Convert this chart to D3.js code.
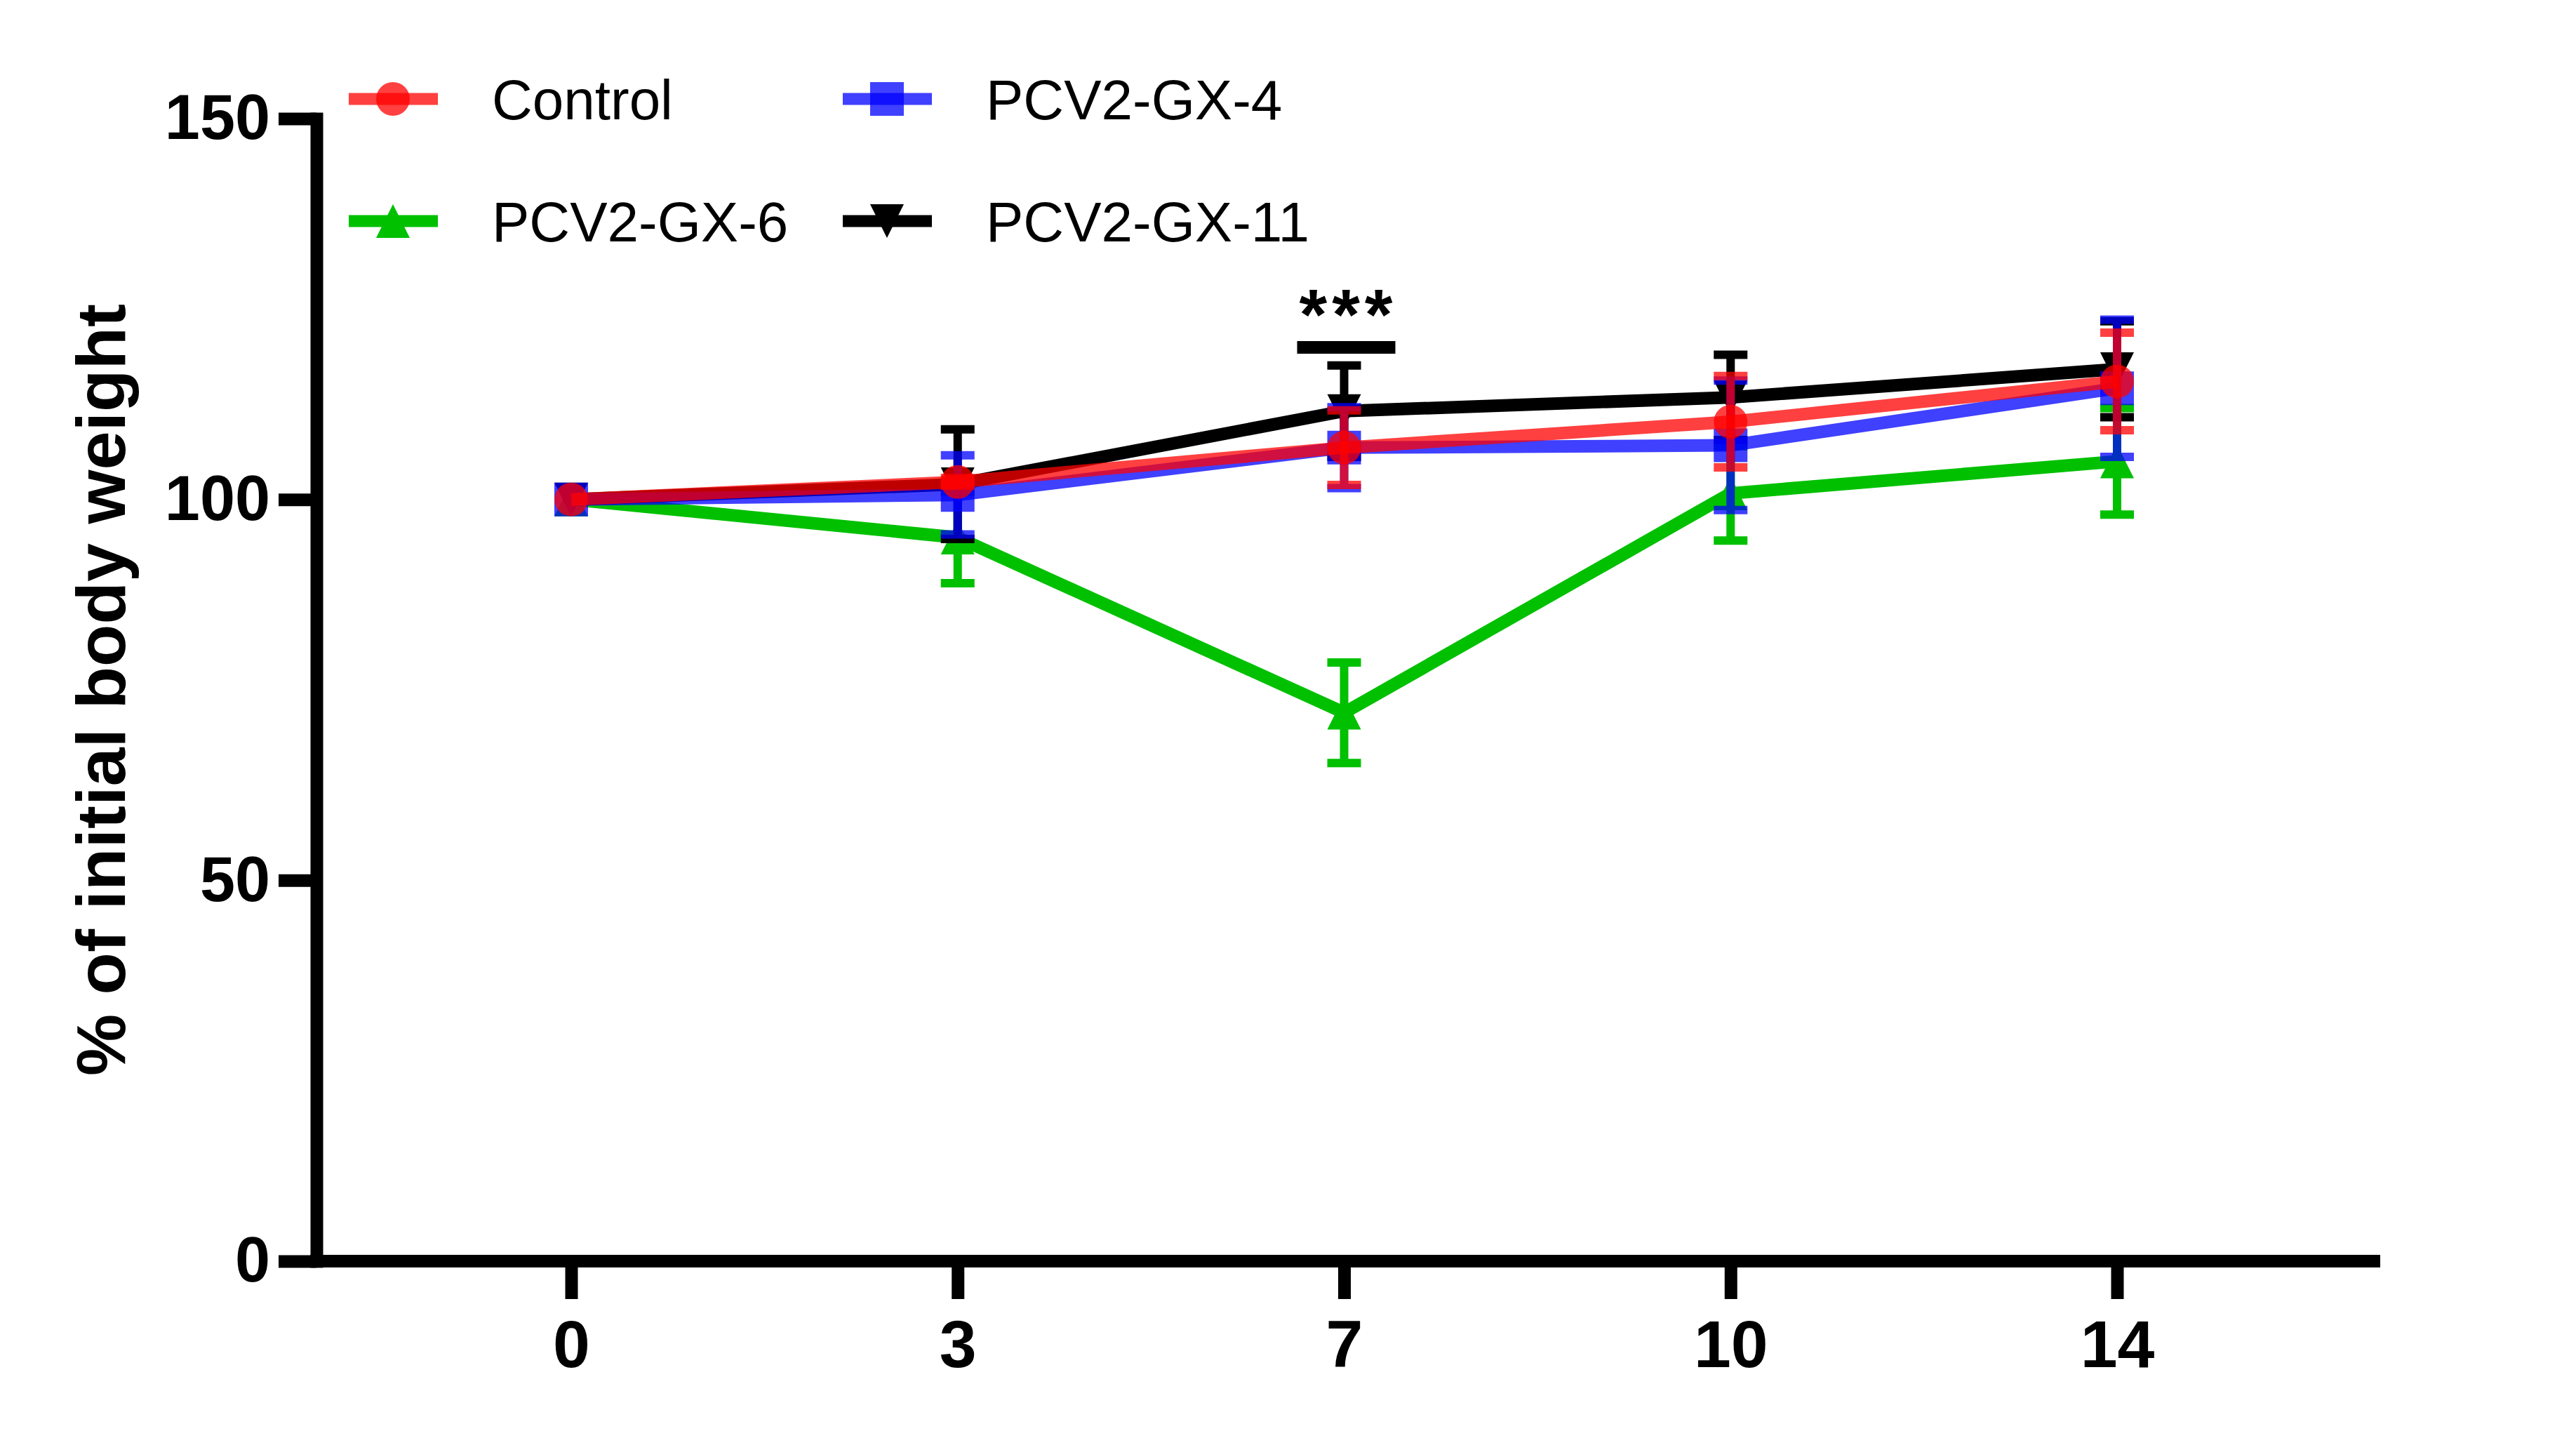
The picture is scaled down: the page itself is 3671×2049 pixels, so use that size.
<!DOCTYPE html>
<html>
<head>
<meta charset="utf-8">
<script src="https://cdn.jsdelivr.net/npm/d3@7"></script>
<style>
  body { margin: 0; background: #fff; }
  text { font-family: "Liberation Sans", Arial, sans-serif; }
</style>
</head>
<body>
<div id="chart"></div>
<script>
"use strict";

// data (mean, SD) for each day
const days = ["0", "3", "7", "10", "14"];
const yTicks = [0, 50, 100, 150];

const controlMean = [100, 102.3, 106.8, 110.2, 115.5];
const controlSd   = [0, 0.5, 4.9, 6.0, 6.4];
const gx4Mean     = [100, 100.6, 106.8, 107.1, 114.6];
const gx4Sd       = [0, 5.2, 5.3, 8.5, 9.0];
const gx6Mean     = [100, 95.0, 72.0, 100.8, 105.0];
const gx6Sd       = [0, 6.0, 6.6, 6.2, 7.0];
const gx11Mean    = [100, 102.0, 111.6, 113.4, 117.1];
const gx11Sd      = [0, 7.2, 6.0, 5.6, 6.3];

const sigDay = "7";
const sigLabel = "***";

(function () {
    const W = 3671, H = 2049;

    const series = [
        { name: "Control",    mean: controlMean, sd: controlSd, color: "rgba(255,0,0,0.75)", shape: "circle" },
        { name: "PCV2-GX-4",  mean: gx4Mean,     sd: gx4Sd,     color: "rgba(0,0,255,0.75)", shape: "square" },
        { name: "PCV2-GX-6",  mean: gx6Mean,     sd: gx6Sd,     color: "#00c000",            shape: "up" },
        { name: "PCV2-GX-11", mean: gx11Mean,    sd: gx11Sd,    color: "#000000",            shape: "down" }
    ];
    // stacking order in the plot, bottom to top
    const drawOrder = ["PCV2-GX-6", "PCV2-GX-11", "PCV2-GX-4", "Control"];

    const svg = d3.select("#chart").append("svg")
        .attr("width", W)
        .attr("height", H);

    const x = d3.scalePoint().domain(days).range([814, 3017]);
    const y = d3.scaleLinear().domain([0, 150]).range([1797, 169]);

    const axisLeftX = 451, axisRightX = 3392, axisW = 18;

    function symbolPath(shape) {
        const s = 24;
        if (shape === "circle") return d3.symbol(d3.symbolCircle, Math.PI * s * s)();
        if (shape === "square") return d3.symbol(d3.symbolSquare, (2 * s) * (2 * s))();
        if (shape === "up") return `M0,${-s}L${s},${s}L${-s},${s}Z`;
        return `M${-s},${-s}L${s},${-s}L0,${s}Z`;
    }

    // ---- axes
    const yAxis = d3.axisLeft(y)
        .tickValues(yTicks)
        .tickSize(54)
        .tickSizeOuter(0)
        .tickPadding(12);

    const gy = svg.append("g")
        .attr("transform", `translate(${axisLeftX},0)`)
        .call(yAxis);
    gy.select(".domain")
        .attr("stroke", "#000")
        .attr("stroke-width", axisW)
        .attr("stroke-linecap", "square");
    gy.selectAll(".tick line")
        .attr("stroke", "#000")
        .attr("stroke-width", axisW);
    gy.selectAll(".tick text")
        .attr("fill", "#000")
        .style("font-size", "90px")
        .style("font-weight", "bold");

    const xAxis = d3.axisBottom(x)
        .tickSize(54)
        .tickSizeOuter(0)
        .tickPadding(30);

    const gx = svg.append("g")
        .attr("transform", `translate(0,${y(0)})`)
        .call(xAxis);
    gx.select(".domain").remove();
    gx.selectAll(".tick line")
        .attr("stroke", "#000")
        .attr("stroke-width", axisW);
    gx.selectAll(".tick text")
        .attr("fill", "#000")
        .style("font-size", "95px")
        .style("font-weight", "bold");
    gx.append("line")
        .attr("x1", axisLeftX - axisW / 2)
        .attr("x2", axisRightX)
        .attr("stroke", "#000")
        .attr("stroke-width", axisW);

    svg.append("text")
        .attr("transform", `translate(178,${(y(0) + y(150)) / 2}) rotate(-90)`)
        .attr("text-anchor", "middle")
        .style("font-size", "99px")
        .style("font-weight", "bold")
        .text("% of initial body weight");

    // ---- series
    const line = d3.line()
        .x((d, i) => x(days[i]))
        .y(d => y(d));

    const plot = svg.append("g");

    drawOrder.forEach(name => {
        const s = series.find(d => d.name === name);
        const g = plot.append("g");

        g.append("path")
            .attr("d", line(s.mean))
            .attr("fill", "none")
            .attr("stroke", s.color)
            .attr("stroke-width", 18);

        g.selectAll(".err")
            .data(days.map((d, i) => ({ day: d, m: s.mean[i], sd: s.sd[i] })).filter(d => d.sd > 0))
            .enter()
            .append("path")
            .attr("d", d => {
                const cx = x(d.day), yt = y(d.m + d.sd), yb = y(d.m - d.sd);
                return `M${cx - 24},${yt}H${cx + 24}M${cx},${yt}V${yb}M${cx - 24},${yb}H${cx + 24}`;
            })
            .attr("fill", "none")
            .attr("stroke", s.color)
            .attr("stroke-width", 12);

        g.selectAll(".pt")
            .data(s.mean)
            .enter()
            .append("path")
            .attr("transform", (d, i) => `translate(${x(days[i])},${y(d)})`)
            .attr("d", symbolPath(s.shape))
            .attr("fill", s.color);
    });

    // ---- significance mark
    const sx = x(sigDay);
    svg.append("rect")
        .attr("x", sx - 67)
        .attr("y", 486)
        .attr("width", 140)
        .attr("height", 18)
        .attr("fill", "#000");
    svg.append("text")
        .attr("x", sx + 6)
        .attr("y", 483)
        .attr("text-anchor", "middle")
        .style("font-size", "102px")
        .style("font-weight", "bold")
        .style("letter-spacing", "7px")
        .text(sigLabel);

    // ---- legend
    const legendCols = [560, 1264];
    const legendRows = [141, 315];
    const legend = svg.append("g");

    series.forEach((s, i) => {
        const lx = legendCols[i % 2], ly = legendRows[Math.floor(i / 2)];
        const item = legend.append("g").attr("transform", `translate(${lx},${ly})`);
        item.append("line")
            .attr("x1", -63)
            .attr("x2", 64)
            .attr("stroke", s.color)
            .attr("stroke-width", 17);
        item.append("path")
            .attr("d", symbolPath(s.shape))
            .attr("fill", s.color);
        item.append("text")
            .attr("x", 141)
            .attr("y", 29)
            .style("font-size", "80px")
            .text(s.name);
    });
})();
</script>
</body>
</html>
